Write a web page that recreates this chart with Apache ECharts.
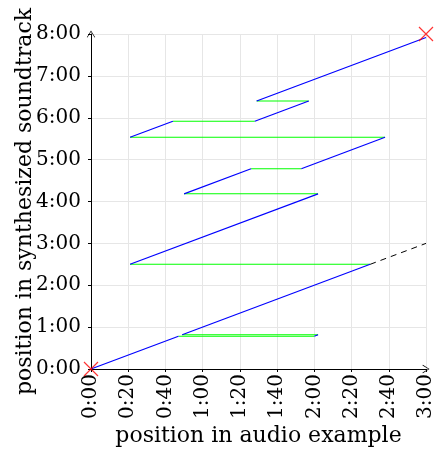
<!DOCTYPE html>
<html>
<head>
<meta charset="utf-8">
<script src="https://cdn.jsdelivr.net/npm/echarts@6/dist/echarts.min.js"></script>
<style>
html,body{margin:0;padding:0;background:#fff;}
#chart{width:434px;height:452px;}
</style>
</head>
<body>
<div id="chart"></div>
<script>
// path through (audio position, soundtrack position), in seconds
var pathAudio = [0, 47, 120, 122, 49, 150, 21, 122, 50, 86, 113, 158, 21, 44, 88, 117, 89, 180];
var pathSynth = [0, 47, 47, 49, 49, 150, 150, 251, 251, 287, 287, 332, 332, 355, 355, 384, 384, 475];
// 'p' = played (blue), 'j' = jump (green), one per segment
var segKind = ['p','j','p','j','p','j','p','j','p','j','p','j','p','j','p','j','p'];
// reference diagonal continuing past the first played stretch
var refAudio = [150, 180];
var refSynth = [150, 180];
// start / end marks
var markAudio = [0, 180];
var markSynth = [0, 480];

var xTicks = [0, 20, 40, 60, 80, 100, 120, 140, 160, 180];
var yTicks = [0, 60, 120, 180, 240, 300, 360, 420, 480];

function mmss(v) {
	var m = Math.floor(v / 60), s = Math.round(v % 60);
	return m + ':' + (s < 10 ? '0' + s : s);
}

var font = 'DejaVu Serif';
var chevron = 'path://M0,0L5,8L4.3,8.4L0,1.4L-4.3,8.4L-5,8Z';

var series = [];
for (var i = 0; i < segKind.length; i++) {
	series.push({
		type: 'line',
		silent: true,
		showSymbol: false,
		animation: false,
		z: segKind[i] == 'p' ? 3 : 2,
		lineStyle: {
			color: segKind[i] == 'p' ? '#0000ff' : '#00ff00',
			width: segKind[i] == 'p' ? 1.2 : 1.1
		},
		data: [[pathAudio[i], pathSynth[i]], [pathAudio[i + 1], pathSynth[i + 1]]]
	});
}
series.push({
	type: 'line',
	showSymbol: false,
	animation: false,
	lineStyle: { color: '#000', width: 1, type: [6, 5] },
	data: refAudio.map(function (x, k) { return [x, refSynth[k]]; })
});
series.push({
	type: 'scatter',
	animation: false,
	symbol: 'path://M0,0L10,10M10,0L0,10',
	symbolSize: 14,
	z: 5,
	itemStyle: { color: 'none', borderColor: '#ff0000', borderWidth: 1.2 },
	data: markAudio.map(function (x, k) { return [x, markSynth[k]]; })
});

var myChart = echarts.init(document.getElementById('chart'));
var option = {
	animation: false,
	grid: { left: 91, right: 8, top: 34, bottom: 83, containLabel: false, outerBoundsMode: 'none' },
	xAxis: {
		type: 'value',
		min: xTicks[0],
		max: xTicks[xTicks.length - 1],
		interval: xTicks[1] - xTicks[0],
		name: 'position in audio example',
		nameLocation: 'middle',
		nameGap: 56,
		nameMoveOverlap: false,
		nameTextStyle: { fontFamily: font, fontSize: 22, color: '#000' },
		axisLine: { show: true, symbol: ['none', chevron], symbolSize: [9, 7], lineStyle: { color: '#000', width: 1 } },
		axisTick: { show: true, length: 3, lineStyle: { color: '#000' } },
		axisLabel: { rotate: 90, formatter: mmss, fontFamily: font, fontSize: 20, color: '#000', margin: 5 },
		splitLine: { show: true, lineStyle: { color: '#e6e6e6', width: 1 } }
	},
	yAxis: {
		type: 'value',
		min: yTicks[0],
		max: yTicks[yTicks.length - 1],
		interval: yTicks[1] - yTicks[0],
		name: 'position in synthesized soundtrack',
		nameLocation: 'middle',
		nameGap: 55,
		nameMoveOverlap: false,
		nameTextStyle: { fontFamily: font, fontSize: 22, color: '#000' },
		axisLine: { show: true, symbol: ['none', chevron], symbolSize: [9, 7], lineStyle: { color: '#000', width: 1 } },
		axisTick: { show: true, length: 3, lineStyle: { color: '#000' } },
		axisLabel: { formatter: mmss, fontFamily: font, fontSize: 20, color: '#000', margin: 10 },
		splitLine: { show: true, lineStyle: { color: '#e6e6e6', width: 1 } }
	},
	series: series
};
myChart.setOption(option);
</script>
</body>
</html>
